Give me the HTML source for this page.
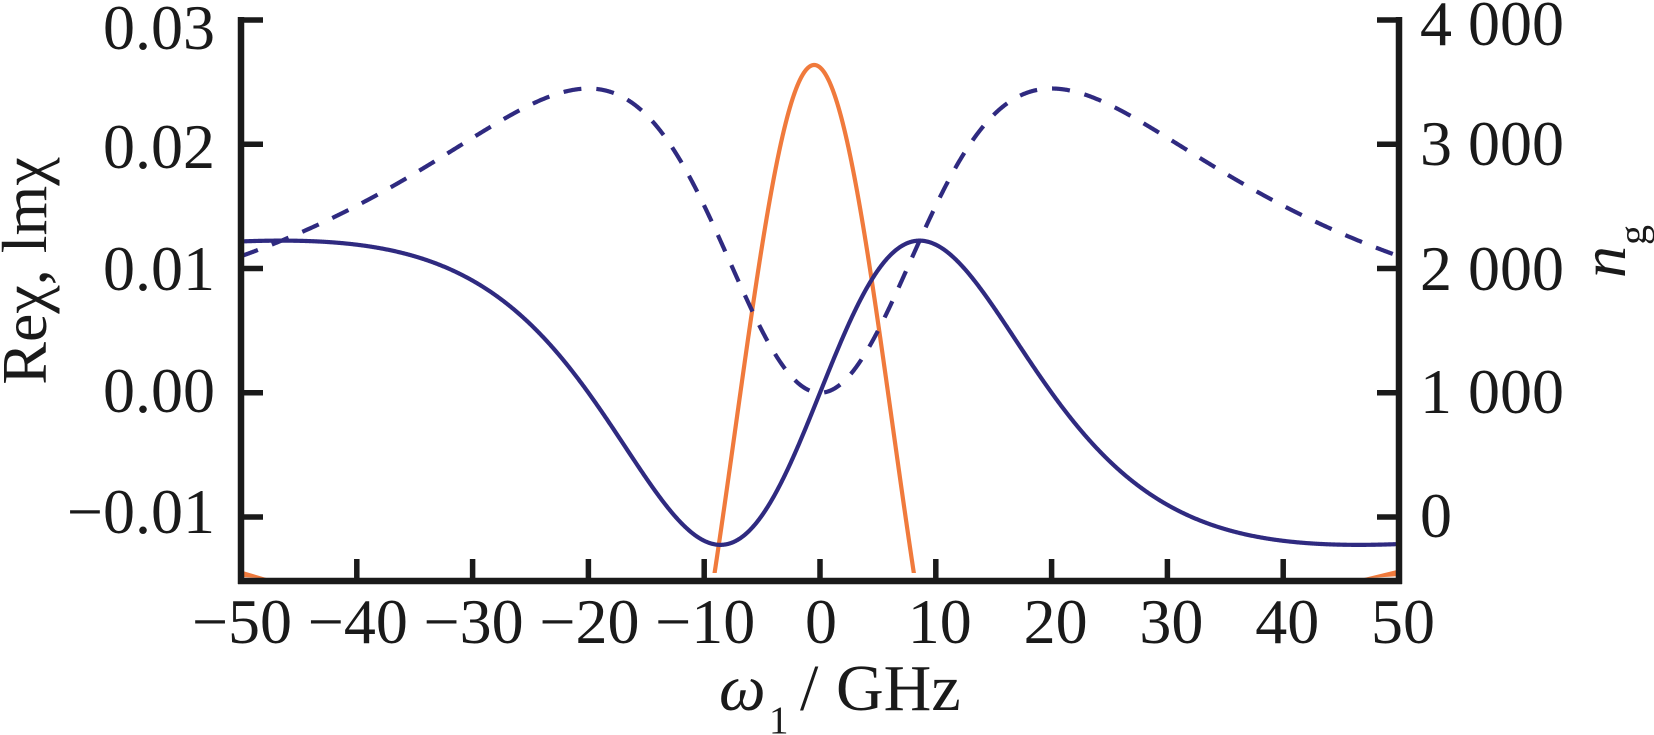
<!DOCTYPE html>
<html>
<head>
<meta charset="utf-8">
<style>
  html,body{margin:0;padding:0;background:#fff;}
  body{width:1654px;height:735px;overflow:hidden;}
  svg{display:block;}
  text{font-family:"Liberation Serif","DejaVu Serif",serif;fill:#1a1a1a;}
</style>
</head>
<body>
<svg id="chart" width="1654" height="735" viewBox="0 0 1654 735" xmlns="http://www.w3.org/2000/svg">
  <defs>
    <clipPath id="pc"><rect x="241" y="14" width="1158" height="564"/></clipPath>
    <clipPath id="oc"><rect x="241" y="14" width="1158" height="559"/></clipPath>
  </defs>
  <g clip-path="url(#oc)">
    <path id="orange" d="" fill="none" stroke="#f07a3c" stroke-width="4.2" stroke-linejoin="round" stroke-linecap="round"/>
  </g>
  <polygon points="241,570.5 241,577 268,578.5" fill="#f07a3c"/>
  <polygon points="1399,569.5 1399,576 1362,578.5" fill="#f07a3c"/>
  <g clip-path="url(#pc)">
    <path id="dashed" d="" fill="none" stroke="#2f2a80" stroke-width="4.2" stroke-dasharray="18 15"/>
    <path id="solid" d="" fill="none" stroke="#2f2a80" stroke-width="4.2" stroke-linejoin="round"/>
  </g>

  <!-- axes -->
  <g stroke="#1a1a1a" fill="none">
    <path d="M241 17 V584 M238 581 H1402 M1399 17 V584" stroke-width="6.5"/>
    <g id="ticks" stroke-width="5.5"></g>
  </g>

  <!-- left tick labels -->
  <g font-size="64" text-anchor="end">
    <text x="215" y="49">0.03</text>
    <text x="215" y="168">0.02</text>
    <text x="215" y="290">0.01</text>
    <text x="215" y="412">0.00</text>
    <text x="215" y="533">−0.01</text>
  </g>
  <!-- right tick labels -->
  <g font-size="64" text-anchor="start">
    <text x="1420" y="45">4 000</text>
    <text x="1420" y="165">3 000</text>
    <text x="1420" y="290">2 000</text>
    <text x="1420" y="413">1 000</text>
    <text x="1420" y="537">0</text>
  </g>
  <!-- x tick labels -->
  <g font-size="64" text-anchor="middle" id="xlabels"></g>

  <!-- axis titles -->
  <text font-size="64" text-anchor="middle" transform="translate(46,271) rotate(-90)">Reχ, lmχ</text>
  <text font-size="64" font-style="italic" transform="translate(1625,278) rotate(-90)">n</text>
  <text font-size="40" transform="translate(1646,245) rotate(-90)">g</text>

  <text x="719" y="710" font-size="66" font-style="italic">ω</text>
  <text x="769" y="733" font-size="39">1</text>
  <text x="800" y="710" font-size="66">/</text>
  <text x="836" y="710" font-size="66">GHz</text>
</svg>
<script>
(function(){
  const X=w=>241+(w+50)*11.58;
  const YL=v=>20+(0.03-v)*12425;
  const YR=n=>20+(4000-n)*0.12425;
  const a=0.928,c=400,g=37.9;
  function den(d){const q=d*d-c;return q*q+g*g*d*d;}
  function re(d){return -a*d*(d*d-c)/den(d);}
  function im(d){return a*g*d*d/den(d);}
  const C=-450, K=(3638-C)*c/a;
  function ng(w){const d=w+0.5,h=1e-3;return C+K*(re(d+h)-re(d-h))/(2*h);}
  let s="",ds="",os="";
  let first=true;
  for(let w=-50;w<=50.0001;w+=0.05){
    const x=X(w).toFixed(2);
    const cmd=first?"M":"L";
    s+=cmd+x+" "+YL(re(w)).toFixed(2)+" ";
    ds+=cmd+x+" "+YL(im(w)).toFixed(2)+" ";
    first=false;
  }
  first=true;
  for(let w=-9.6;w<=8.6001;w+=0.02){
    const x=X(w).toFixed(2);
    const cmd=first?"M":"L";
    let yo=YR(ng(w)); if(yo>700) yo=700;
    os+=cmd+x+" "+yo.toFixed(2)+" ";
    first=false;
  }
  document.getElementById("solid").setAttribute("d",s);
  document.getElementById("dashed").setAttribute("d",ds);
  document.getElementById("orange").setAttribute("d",os);

  let t="";
  [20,144.25,268.5,392.75,517].forEach(y=>{
    t+="M241 "+y+" H263 M1399 "+y+" H1377 ";
  });
  for(let w=-40;w<=40;w+=10){
    const x=X(w);
    t+="M"+x+" 581 V559 ";
  }
  const tp=document.createElementNS("http://www.w3.org/2000/svg","path");
  tp.setAttribute("d",t);
  document.getElementById("ticks").appendChild(tp);

  const xl=document.getElementById("xlabels");
  for(let w=-50;w<=50;w+=10){
    const tx=document.createElementNS("http://www.w3.org/2000/svg","text");
    tx.setAttribute("x",(X(w)+(w>0?4:1)).toFixed(1));
    tx.setAttribute("y","643");
    tx.textContent=(w<0?"−":"")+Math.abs(w);
    xl.appendChild(tx);
  }
})();
</script>
</body>
</html>
